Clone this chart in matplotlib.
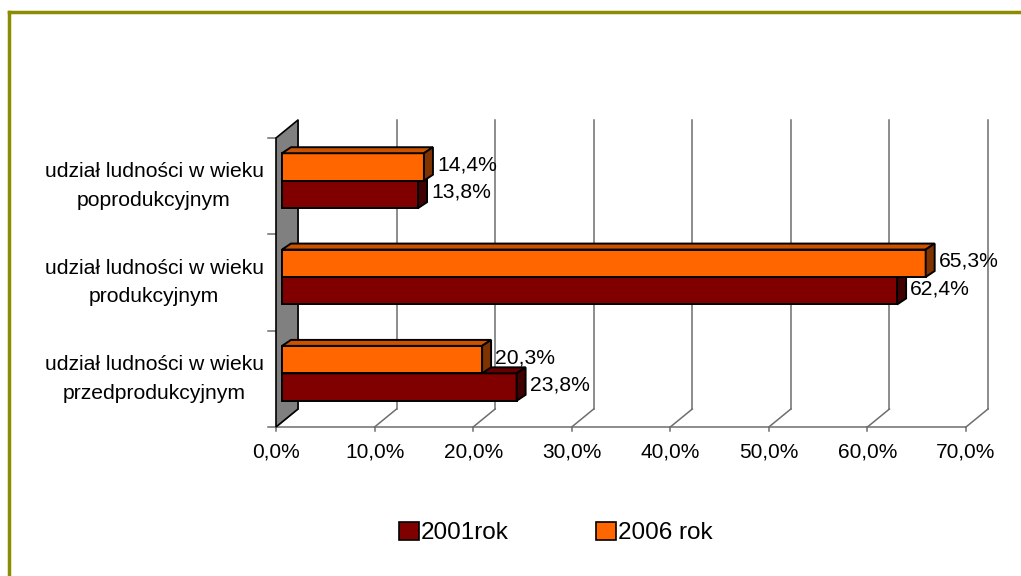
import numpy as np
import matplotlib

matplotlib.use("Agg")
import matplotlib.pyplot as plt
from matplotlib.patches import Polygon, Rectangle
from matplotlib.lines import Line2D

# data (bottom -> top)
categories = [
    "udział ludności w wieku\nprzedprodukcyjnym",
    "udział ludności w wieku\nprodukcyjnym",
    "udział ludności w wieku\npoprodukcyjnym",
]
rok_2001 = [23.8, 62.4, 13.8]
rok_2006 = [20.3, 65.3, 14.4]
series_names = ["2001rok", "2006 rok"]
xticks = [0, 10, 20, 30, 40, 50, 60, 70]

plt.rcParams["font.family"] = ["Liberation Sans", "DejaVu Sans"]

W, H = 1021, 576
fig = plt.figure(figsize=(W / 100, H / 100), dpi=100)
# front plane of the pseudo-3D box, in pixels
X0, X1, YT, YB = 276, 966, 138, 427
ax = fig.add_axes([X0 / W, 1 - YB / H, (X1 - X0) / W, (YB - YT) / H])
ax.set_xlim(0, 70)
ax.set_ylim(0, 3)
ax.axis("off")

px = 70 / (X1 - X0)   # data units per pixel (x)
py = 3 / (YB - YT)    # data units per pixel (y)

# depth of the box and of the bars, converted from pixels
DX, DY = 22 * px, 18 * py
BX, BY = 6 * px, 5 * py        # bars sit a little behind the front plane
TX, TY = 9 * px, 6 * py        # bar thickness
GRID = "#6e6e6e"

# left wall
ax.add_patch(Polygon([(0, 0), (0, 3), (DX, 3 + DY), (DX, DY)], closed=True,
                     facecolor="#808080", edgecolor="black", lw=1.2, clip_on=False, zorder=1))
# back wall gridlines, floor diagonals, front floor line, ticks
for t in xticks:
    ax.plot([t + DX, t + DX], [DY, 3 + DY], color=GRID, lw=1.1, clip_on=False, zorder=0.5)
    ax.plot([t, t + DX], [0, DY], color=GRID, lw=1.1, clip_on=False, zorder=0.5)
    ax.plot([t, t], [0, -4 * py], color=GRID, lw=1.1, clip_on=False, zorder=0.5)
    ax.text(t, -25 * py, f"{t:.1f}%".replace(".", ","), ha="center", va="center",
            fontsize=15)
ax.plot([0, 70], [0, 0], color=GRID, lw=1.1, clip_on=False, zorder=0.5)
for k in range(4):
    ax.plot([-8 * px, 0], [k, k], color=GRID, lw=1.1, clip_on=False, zorder=0.5)

# category labels
for i, c in enumerate(categories):
    ax.text(-122 * px, i + 0.5 + 0.0, c, ha="center", va="center",
            multialignment="center", fontsize=15.2, linespacing=1.65)


def bar3d(y0, h, v, front, top, side):
    x0 = BX
    y0 = y0 + BY
    x1 = x0 + v
    ax.add_patch(Rectangle((x0, y0), v, h, facecolor=front, edgecolor="black",
                           lw=1.4, clip_on=False, zorder=2))
    ax.add_patch(Polygon([(x0, y0 + h), (x1, y0 + h), (x1 + TX, y0 + h + TY),
                          (x0 + TX, y0 + h + TY)], closed=True, facecolor=top,
                         edgecolor="black", lw=1.4, clip_on=False, zorder=2))
    ax.add_patch(Polygon([(x1, y0), (x1 + TX, y0 + TY), (x1 + TX, y0 + h + TY),
                          (x1, y0 + h)], closed=True, facecolor=side,
                         edgecolor="black", lw=1.4, clip_on=False, zorder=2))
    ax.text(x1 + 13 * px, y0 + h / 2 + 2 * py, f"{v:.1f}%".replace(".", ","),
            ha="left", va="center", fontsize=15.2, zorder=3)


hb = 0.285
for i in range(len(categories)):
    c = i + 0.5 + 0.005
    bar3d(c - hb, hb, rok_2001[i], "#800000", "#660000", "#420000")
    bar3d(c, hb, rok_2006[i], "#FF6600", "#CC5200", "#7F3300")

# legend
handles = [Rectangle((0, 0), 1, 1, facecolor="#800000", edgecolor="black", lw=1.2),
           Rectangle((0, 0), 1, 1, facecolor="#FF6600", edgecolor="black", lw=1.2)]
fig.legend(handles, series_names, loc="center", bbox_to_anchor=(556 / W, 1 - 533 / H),
           ncol=2, frameon=False, fontsize=17.5, handlelength=0.8, handleheight=0.8,
           handletextpad=0.1, columnspacing=3.6)

# olive frame (top and left edges visible)
fig.add_artist(Line2D([9 / W, 9 / W], [0, 1 - 12 / H], color="#8c8c00", lw=2.5))
fig.add_artist(Line2D([9 / W, 1], [1 - 12 / H, 1 - 12 / H], color="#8c8c00", lw=2.5))

fig.savefig("out.png", dpi=100)
